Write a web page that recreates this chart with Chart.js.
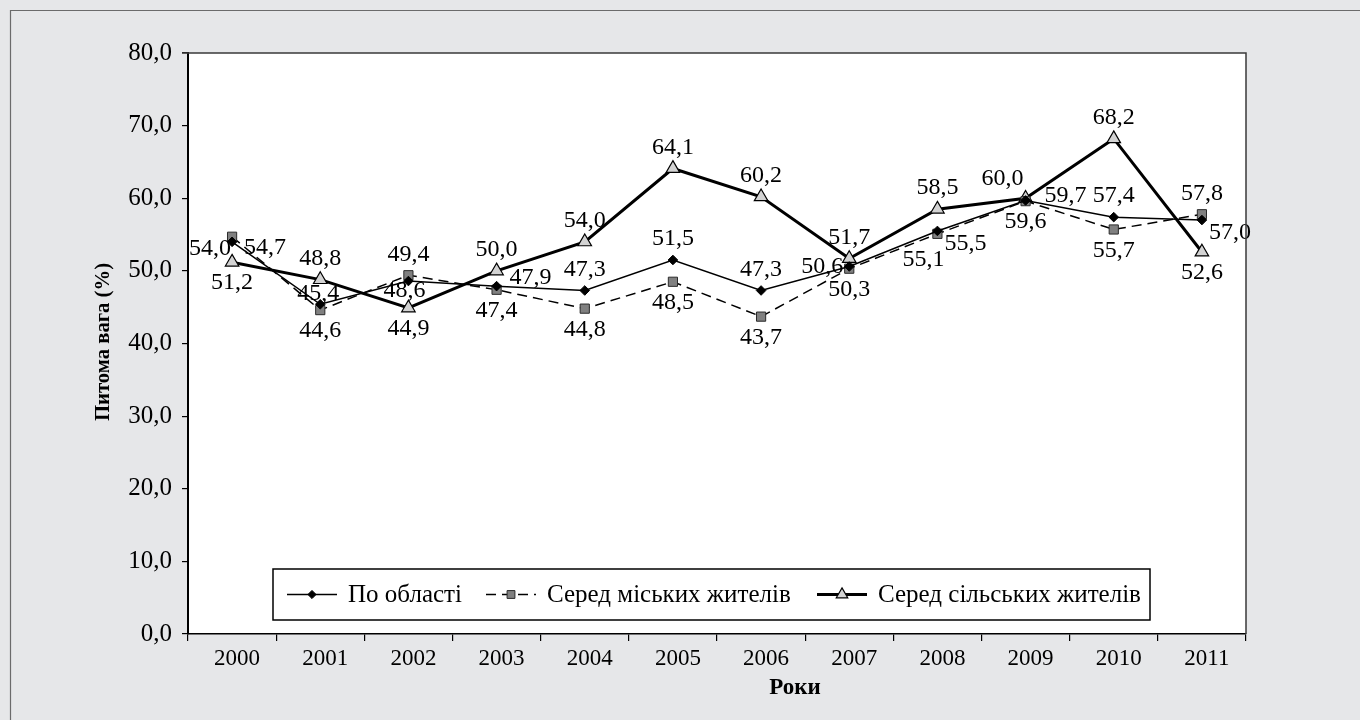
<!DOCTYPE html>
<html>
<head>
<meta charset="utf-8">
<script src="https://cdn.jsdelivr.net/npm/chart.js@4.4.0/dist/chart.umd.min.js"></script>
<style>
  html,body{margin:0;padding:0;background:#e6e7e9;}
  #wrap{width:1360px;height:720px;position:relative;}
</style>
</head>
<body>
<div id="wrap"><canvas id="c" width="1360" height="720"></canvas></div>
<script>
// ---- data ----
const years = ['2000','2001','2002','2003','2004','2005','2006','2007','2008','2009','2010','2011'];
const regionValues = [54.0, 45.4, 48.6, 47.9, 47.3, 51.5, 47.3, 50.6, 55.5, 59.7, 57.4, 57.0];
const urbanValues  = [54.7, 44.6, 49.4, 47.4, 44.8, 48.5, 43.7, 50.3, 55.1, 59.6, 55.7, 57.8];
const ruralValues  = [51.2, 48.8, 44.9, 50.0, 54.0, 64.1, 60.2, 51.7, 58.5, 60.0, 68.2, 52.6];
const seriesNames = ['По області', 'Серед міських жителів', 'Серед сільських жителів'];
const yTickValues = [0, 10, 20, 30, 40, 50, 60, 70, 80];
const yTitle = 'Питома вага (%)';
const xTitle = 'Роки';

// label placement codes (separate from values)
const regionLabelPos = ['lb','ia','ib','ar','a','a','a','l','br','ru','a','br'];
const urbanLabelPos  = ['rb','b','a','b','b','b','b','b','bl','b','b','a'];
const ruralLabelPos  = ['b','a','b','a','a','a','a','a','a','al','a','b'];

const labelOffsets = {
  a:[0,-21], b:[0,21], l:[-27,0], r:[31,3], al:[-23,-20], ar:[34,-8],
  br:[28,13], bl:[-14,26], ia:[-2,-11], ib:[-4,10], rb:[33,11], lb:[-22,7], ru:[40,-5]
};

const fmt = v => v.toFixed(1).replace('.', ',');
const SERIF = '"Liberation Serif", "Times New Roman", serif';

const bgPlugin = {
  id: 'bg',
  beforeDraw(chart) {
    const {ctx, chartArea: a} = chart;
    ctx.save();
    ctx.fillStyle = '#e6e7e9';
    ctx.fillRect(0, 0, chart.width, chart.height);
    ctx.strokeStyle = '#6b6b6b';
    ctx.lineWidth = 1.2;
    ctx.beginPath();
    ctx.moveTo(10.5, chart.height); ctx.lineTo(10.5, 10.5); ctx.lineTo(chart.width, 10.5);
    ctx.stroke();
    ctx.fillStyle = '#ffffff';
    ctx.fillRect(a.left, a.top, a.right - a.left, a.bottom - a.top);
    ctx.restore();
  },
  afterDraw(chart) {
    const {ctx, chartArea: a} = chart;
    ctx.save();
    // top and right frame
    ctx.strokeStyle = '#3a3a3a';
    ctx.lineWidth = 1.5;
    ctx.beginPath();
    ctx.moveTo(a.left - 6, a.top); ctx.lineTo(a.right, a.top); ctx.lineTo(a.right, a.bottom);
    ctx.stroke();
    // axis titles
    ctx.fillStyle = '#000';
    ctx.font = 'bold 23px ' + SERIF;
    ctx.textAlign = 'center';
    ctx.textBaseline = 'middle';
    ctx.fillText(xTitle, 795, 688);
    ctx.font = 'bold 22px ' + SERIF;
    ctx.translate(103, 342);
    ctx.rotate(-Math.PI / 2);
    ctx.scale(0.94, 1);
    ctx.fillText(yTitle, 0, 0);
    ctx.restore();

    // legend
    ctx.save();
    const boxL = 273, boxT = 569, boxR = 1150, boxB = 620;
    ctx.fillStyle = '#fff';
    ctx.fillRect(boxL, boxT, boxR - boxL, boxB - boxT);
    ctx.strokeStyle = '#000';
    ctx.lineWidth = 1.5;
    ctx.strokeRect(boxL, boxT, boxR - boxL, boxB - boxT);
    ctx.font = '25px ' + SERIF;
    ctx.textBaseline = 'middle';
    ctx.textAlign = 'left';
    const cy = (boxT + boxB) / 2;
    const starts = [287, 486, 817];
    chart.data.datasets.forEach((ds, i) => {
      const x0 = starts[i];
      const len = 50;
      ctx.save();
      ctx.strokeStyle = ds.borderColor;
      ctx.lineWidth = ds.borderWidth;
      ctx.setLineDash(ds.borderDash || []);
      ctx.beginPath();
      ctx.moveTo(x0, cy); ctx.lineTo(x0 + len, cy);
      ctx.stroke();
      ctx.setLineDash([]);
      ctx.fillStyle = ds.pointBackgroundColor;
      ctx.strokeStyle = ds.pointBorderColor;
      ctx.lineWidth = ds.pointBorderWidth;
      Chart.helpers.drawPoint(ctx, {
        pointStyle: ds.pointStyle, radius: ds.pointRadius * 0.85, rotation: 0,
        borderWidth: ds.pointBorderWidth
      }, x0 + len / 2, cy);
      ctx.restore();
      ctx.fillStyle = '#000';
      ctx.fillText(ds.label, x0 + len + 11, cy + 1);
    });
    ctx.restore();
  },
  afterDatasetsDraw(chart) {
    const {ctx} = chart;
    const posSets = [regionLabelPos, urbanLabelPos, ruralLabelPos];
    ctx.save();
    ctx.font = '24px ' + SERIF;
    ctx.fillStyle = '#000';
    ctx.textAlign = 'center';
    ctx.textBaseline = 'middle';
    chart.data.datasets.forEach((ds, di) => {
      const meta = chart.getDatasetMeta(di);
      meta.data.forEach((pt, i) => {
        const off = labelOffsets[posSets[di][i]] || [0, -21];
        ctx.fillText(fmt(ds.data[i]), pt.x + off[0], pt.y + off[1]);
      });
    });
    ctx.restore();
  }
};

new Chart(document.getElementById('c'), {
  type: 'line',
  data: {
    labels: years,
    datasets: [
      {
        label: seriesNames[0], data: regionValues,
        borderColor: '#000', borderWidth: 1.5, tension: 0,
        pointStyle: 'rectRot', pointRadius: 4.8, pointBackgroundColor: '#000',
        pointBorderColor: '#000', pointBorderWidth: 1
      },
      {
        label: seriesNames[1], data: urbanValues,
        borderColor: '#000', borderWidth: 1.5, borderDash: [10, 6], tension: 0,
        pointStyle: 'rect', pointRadius: 6.5, pointBackgroundColor: '#808080',
        pointBorderColor: '#2a2a2a', pointBorderWidth: 1
      },
      {
        label: seriesNames[2], data: ruralValues,
        borderColor: '#000', borderWidth: 3, tension: 0,
        pointStyle: 'triangle', pointRadius: 7.8, pointBackgroundColor: '#d3d3d3',
        pointBorderColor: '#000', pointBorderWidth: 1.2
      }
    ]
  },
  options: {
    responsive: false,
    animation: false,
    devicePixelRatio: 1,
    layout: { padding: { left: 0, top: 53, right: 114, bottom: 0 } },
    plugins: { legend: { display: false }, tooltip: { enabled: false } },
    scales: {
      x: {
        offset: true,
        afterFit(s) { s.height = 86; },
        grid: { display: true, drawOnChartArea: false, drawTicks: true, tickLength: 7, color: '#000', lineWidth: 1.2, offset: true },
        border: { display: true, color: '#000', width: 1.5 },
        ticks: { color: '#000', font: { family: SERIF, size: 23 }, padding: 4, labelOffset: 5, maxRotation: 0, autoSkip: false }
      },
      y: {
        min: 0, max: 80,
        afterFit(s) { s.width = 188; },
        afterBuildTicks(s) { s.ticks = yTickValues.map(v => ({ value: v })); },
        grid: { display: true, drawOnChartArea: false, drawTicks: true, tickLength: 6, color: '#000', lineWidth: 1.2 },
        border: { display: true, color: '#000', width: 2 },
        ticks: { color: '#000', font: { family: SERIF, size: 25 }, padding: 10, callback: v => fmt(v) }
      }
    }
  },
  plugins: [bgPlugin]
});
</script>
</body>
</html>
